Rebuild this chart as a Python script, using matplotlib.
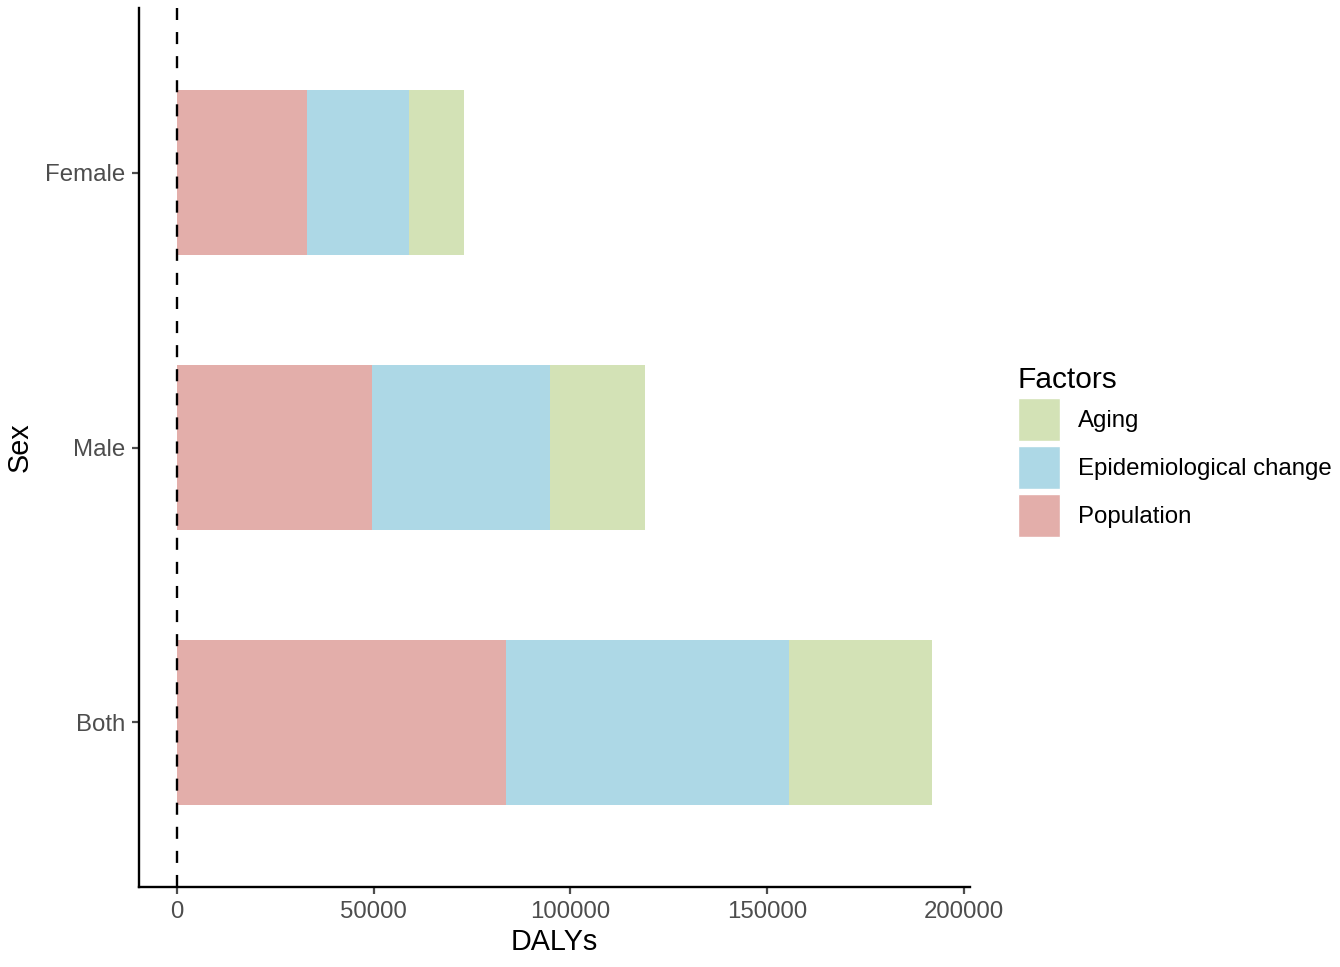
import numpy as np
import matplotlib
matplotlib.use("Agg")
import matplotlib.pyplot as plt
from matplotlib.patches import Patch

plt.rcParams["font.family"] = ["Liberation Sans", "DejaVu Sans"]

# ============================================================
# Data
# ============================================================

sexes = ["Both", "Male", "Female"]
population = [83650, 49700, 33200]
epidemiological = [71740, 45100, 25850]
aging = [36500, 24100, 13950]

factors = ["Aging", "Epidemiological change", "Population"]
colors = {
    "Population": "#E3AEAA",
    "Epidemiological change": "#ADD8E6",
    "Aging": "#D3E2B6",
}

# ============================================================
# Plot
# ============================================================

fig = plt.figure(figsize=(13.4, 9.67), dpi=100)
ax = fig.add_axes([139 / 1340, 1 - 887 / 967, (970 - 139) / 1340, (887 - 8) / 967])

y = np.arange(1, len(sexes) + 1)
left = np.zeros(len(sexes))
for name, vals in [("Population", population),
                   ("Epidemiological change", epidemiological),
                   ("Aging", aging)]:
    ax.barh(y, vals, left=left, height=0.6, color=colors[name], linewidth=0)
    left = left + np.array(vals)

ax.axvline(0, color="black", linestyle=(0, (5.1, 5.1)), linewidth=1.7)

total_max = left.max()
ax.set_xlim(-0.05 * total_max, 1.05 * total_max)
ax.set_ylim(0.4, len(sexes) + 0.6)

ax.set_yticks(y)
ax.set_yticklabels(sexes)
ax.set_xticks([0, 50000, 100000, 150000, 200000])
ax.set_xticklabels(["0", "50000", "100000", "150000", "200000"])

for s in ["top", "right"]:
    ax.spines[s].set_visible(False)
for s in ["left", "bottom"]:
    ax.spines[s].set_linewidth(1.7)

ax.tick_params(axis="both", colors="#4D4D4D", labelsize=17.3, length=5, width=1.6)
ax.tick_params(axis="x", pad=5)
ax.tick_params(axis="y", pad=5)

ax.set_xlabel("DALYs", fontsize=20.7, labelpad=4)
ax.set_ylabel("Sex", fontsize=20.7, labelpad=8)

handles = [Patch(facecolor=colors[f], edgecolor="white", linewidth=1) for f in factors]
leg = fig.legend(handles, factors, loc="upper left",
                 bbox_to_anchor=(996 / 1340, 1 - 344 / 967),
                 frameon=False, fontsize=17.3, title="Factors", title_fontsize=21.5,
                 handlelength=1.75, handleheight=2.38, labelspacing=0.2,
                 handletextpad=0.75, alignment="left")

fig.savefig("out.png", dpi=100)
